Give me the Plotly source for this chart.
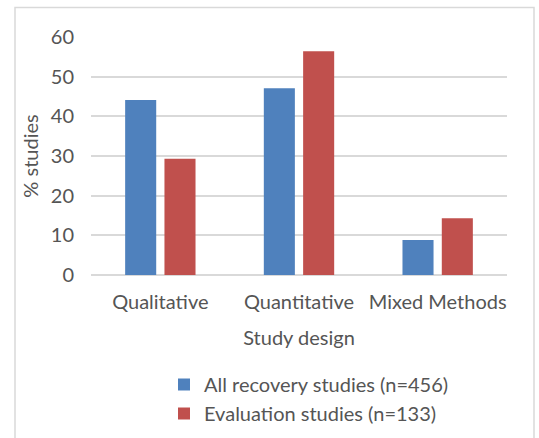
import plotly.graph_objects as go

# Share of studies by design, two study groups
categories = ["Qualitative", "Quantitative", "Mixed Methods"]
all_recovery = [44.1, 47.1, 8.8]
evaluation = [29.3, 56.4, 14.3]
series_names = ["All recovery studies (n=456)", "Evaluation studies (n=133)"]
y_ticks = [0, 10, 20, 30, 40, 50, 60]

W, H = 539, 438
L, R, T, B = 91, 32, 37, 163
PW, PH = W - L - R, H - T - B


def px_x(px):
    return (px - L) / PW


def px_y(py):
    return (H - B - py) / PH


TEXT = "#555555"
GRID = "#D9D9D9"
FONT = "Lato"

fig = go.Figure()
fig.add_bar(x=categories, y=all_recovery, name=series_names[0],
            marker=dict(color="#4F81BD", line=dict(width=0)))
fig.add_bar(x=categories, y=evaluation, name=series_names[1],
            marker=dict(color="#C0504D", line=dict(width=0)))

fig.update_layout(
    width=W, height=H,
    margin=dict(l=L, r=R, t=T, b=B, autoexpand=False),
    paper_bgcolor="white", plot_bgcolor="white",
    font=dict(family=FONT, size=20, color=TEXT),
    barmode="group", bargap=0.433, bargroupgap=0.21,
    showlegend=True,
    legend=dict(orientation="v", x=px_x(164), xanchor="left",
                y=px_y(365), yanchor="top", bgcolor="rgba(0,0,0,0)",
                font=dict(family=FONT, size=20, color=TEXT),
                tracegroupgap=0, itemclick=False),
    xaxis=dict(showline=False, showgrid=False, zeroline=False, ticks="",
               ticklabelstandoff=13, automargin=False,
               tickfont=dict(family=FONT, size=20, color=TEXT),
               title=dict(text="Study design", standoff=18,
                          font=dict(family=FONT, size=20, color=TEXT))),
    yaxis=dict(range=[0, 60], tickvals=y_ticks, showline=False,
               showgrid=True, gridcolor=GRID, gridwidth=1.5,
               zeroline=True, zerolinecolor=GRID, zerolinewidth=1.5,
               ticks="", ticklabelstandoff=16, automargin=False,
               tickfont=dict(family=FONT, size=20, color=TEXT),
               title=dict(text="% studies", standoff=6,
                          font=dict(family=FONT, size=20, color=TEXT))),
    shapes=[dict(type="rect", xref="paper", yref="paper",
                 x0=px_x(15), x1=px_x(534), y0=px_y(460), y1=px_y(7.5),
                 line=dict(color=GRID, width=1.5), fillcolor="rgba(0,0,0,0)",
                 layer="below")],
)

fig.write_html("out.html")
